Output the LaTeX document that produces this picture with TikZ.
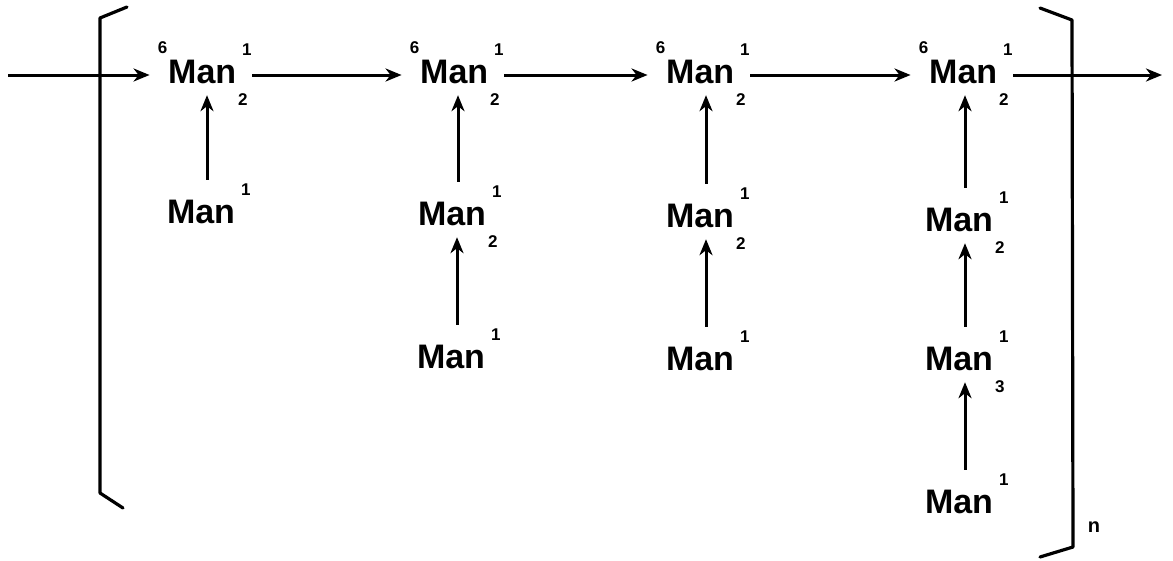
\documentclass[tikz,border=0pt]{standalone}
\usepackage{fontspec}
\setmainfont{Liberation Sans}
\usetikzlibrary{arrows.meta}

% type sizes: main symbol and its indices
\newcommand\mainfontsz{\fontsize{34pt}{40pt}\bfseries\selectfont}
\newcommand\idxfont{\fontsize{17pt}{19pt}\bfseries\selectfont}

% "Man" with optional left superscript (#1), right superscript (#2), right subscript (#3)
\newcommand\mantext[3]{%
  \if\relax\detokenize{#1}\relax\else
    \smash{\raisebox{30pt}{\idxfont #1}}\kern1pt
  \fi
  Man\kern2pt%
  \smash{\makebox[10pt][l]{%
    \rlap{\kern4pt\raisebox{28pt}{\idxfont #2}}%
    \raisebox{-22pt}{\idxfont #3}}}}

\begin{document}
\begin{tikzpicture}[x=1pt,y=1pt,
  sym/.style={inner xsep=4pt,inner ysep=0pt,text height=25pt,text depth=0pt,
              anchor=base,font=\mainfontsz},
  arr/.style={line width=3pt,
              -{Stealth[length=16pt,width=13pt,inset=5pt]}},
  uparr/.style={arr,shorten <=18pt,shorten >=12pt},
  bracket/.style={line width=3.2pt,line join=round,line cap=round}]

\useasboundingbox (0,0) rectangle (1173,-560);

% main chain
\node[sym] (n1) at (203,-83) {\mantext{6}{1}{2}};
\node[sym] (n2) at (455,-83) {\mantext{6}{1}{2}};
\node[sym] (n3) at (701,-83) {\mantext{6}{1}{2}};
\node[sym] (n4) at (964,-83) {\mantext{6}{1}{2}};

% side branches
\node[sym] (c1) at (207,-223) {\mantext{}{1}{}};
\node[sym] (c2) at (458,-225) {\mantext{}{1}{2}};
\node[sym] (d2) at (457,-368) {\mantext{}{1}{}};
\node[sym] (c3) at (706,-227) {\mantext{}{1}{2}};
\node[sym] (d3) at (706,-370) {\mantext{}{1}{}};
\node[sym] (c4) at (965,-231) {\mantext{}{1}{2}};
\node[sym] (d4) at (965,-370) {\mantext{}{1}{3}};
\node[sym] (e4) at (965,-513) {\mantext{}{1}{}};

% free ends of the chain
\coordinate (in)  at (8,-75);
\coordinate (out) at (1162,-75);

% horizontal flow
\draw[arr,shorten >=4pt] (in) -- ([yshift=8pt]n1.base west);
\draw[arr,shorten >=4pt] ([yshift=8pt]n1.base east) -- ([yshift=8pt]n2.base west);
\draw[arr,shorten >=4pt] ([yshift=8pt]n2.base east) -- ([yshift=8pt]n3.base west);
\draw[arr,shorten >=4pt] ([yshift=8pt]n3.base east) -- ([yshift=8pt]n4.base west);
\draw[arr] ([yshift=8pt]n4.base east) -- (out);

% vertical feeds
\draw[uparr] (c1.north) -- (c1.north |- n1.south);
\draw[uparr] (c2.north) -- (c2.north |- n2.south);
\draw[uparr] (d2.north) -- (d2.north |- c2.south);
\draw[uparr] (c3.north) -- (c3.north |- n3.south);
\draw[uparr] (d3.north) -- (d3.north |- c3.south);
\draw[uparr] (c4.north) -- (c4.north |- n4.south);
\draw[uparr] (d4.north) -- (d4.north |- c4.south);
\draw[uparr] (e4.north) -- (e4.north |- d4.south);

% repeat brackets
\draw[bracket] (127,-7) -- (100,-18) -- (100,-493) -- (123,-508);
\draw[bracket] (1040,-8) -- (1072,-20) -- (1073,-547) -- (1040,-557);
\node[font=\fontsize{20pt}{22pt}\bfseries\selectfont,inner sep=0pt] (rep) at (1094,-527) {n};

\end{tikzpicture}
\end{document}
